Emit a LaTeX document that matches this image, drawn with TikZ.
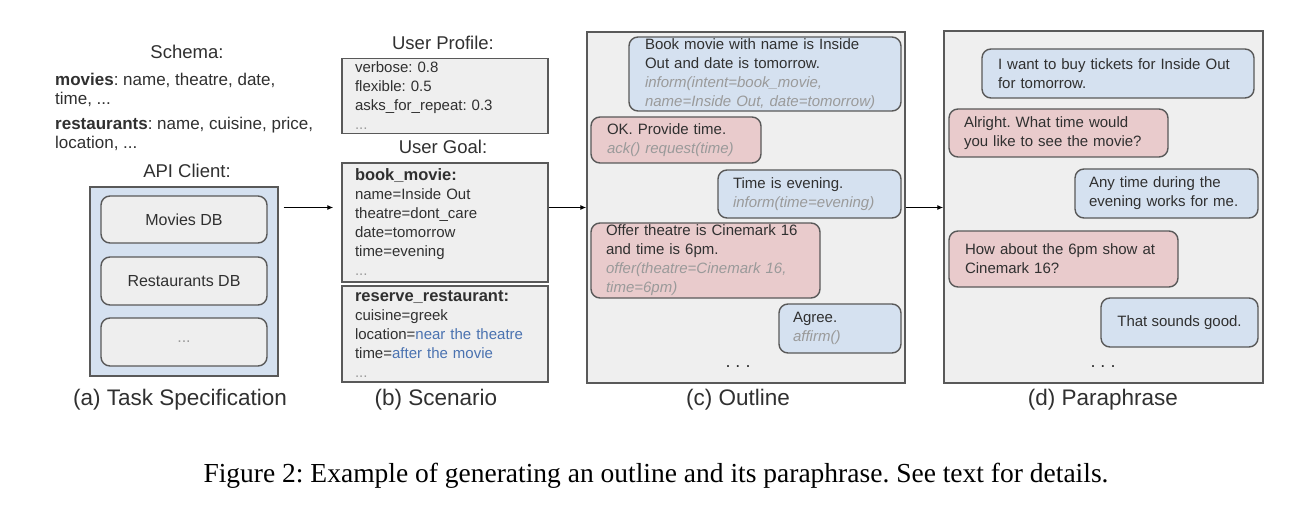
\documentclass[tikz,border=0pt]{standalone}
\usepackage{fontspec}
\setmainfont{Liberation Sans}
\newfontfamily\capfont{Liberation Serif}
\usetikzlibrary{arrows.meta}
\frenchspacing
\definecolor{bord}{HTML}{595959}
\definecolor{panelf}{HTML}{EFEFEF}
\definecolor{bluef}{HTML}{D5E1F0}
\definecolor{redf}{HTML}{E9CBCC}
\definecolor{dbf}{HTML}{EEEEEE}
\definecolor{txtc}{HTML}{303030}
\definecolor{grt}{HTML}{9A9A9A}
\definecolor{linkb}{HTML}{4A72B0}
\newcommand\fs[2]{\fontsize{#1}{#2}\selectfont}
\newcommand\gi[1]{{\color{grt}\itshape #1}}
\tikzset{
  every node/.style={text=txtc},
  ttl/.style={font=\fs{18.5}{22}},
  sub/.style={font=\fs{22.5}{26}},
  panel/.style={draw=bord, fill=panelf, line width=1.4pt, inner sep=0pt},
  bubble/.style={draw=bord, line width=1.4pt, rounded corners=9pt, align=left, inner ysep=0pt, font=\fs{15}{19}},
  bblue/.style={bubble, fill=bluef},
  bred/.style={bubble, fill=redf},
  dbbox/.style={draw=bord, fill=dbf, line width=1.4pt, rounded corners=9pt, minimum width=166pt, font=\fs{16}{19}},
  sbox/.style={draw=bord, fill=panelf, line width=1.4pt, minimum width=206pt, inner xsep=13pt, text width=180pt, align=left, font=\fs{15}{19}},
  arr/.style={draw=black, line width=1.1pt, -{Latex[length=6pt,width=5pt]}},
}
\begin{document}
\begin{tikzpicture}[x=1pt,y=-1pt]
\useasboundingbox (0,0) rectangle (1312,508);
\fill[white] (0,0) rectangle (1312,508);

% (a) Task specification
\node[ttl] (schema) at (187,52) {Schema:};
\node[anchor=west, align=left, inner sep=0pt, font=\fs{17}{19}] (smov) at (55,90) {\textbf{movies}: name, theatre, date,\\time, ...};
\node[anchor=west, align=left, inner sep=0pt, font=\fs{17}{19}] (sres) at (55,134) {\textbf{restaurants}: name, cuisine, price,\\location, ...};
\node[ttl] (apit) at (187,171) {API Client:};
\node[draw=bord, fill=bluef, line width=1.4pt, minimum width=188pt, minimum height=189pt] (api) at (184,281.5) {};
\node[dbbox, minimum height=47pt] (mdb) at (184,219.5) {Movies DB};
\node[dbbox, minimum height=48pt] (rdb) at (184,281) {Restaurants DB};
\node[dbbox, minimum height=48pt, text=grt] (xdb) at (184,342) {...};
\node[sub] (capa) at (180,400) {(a) Task Specification};

% (b) Scenario
\node[ttl] (upt) at (443,43) {User Profile:};
\node[sbox, minimum height=74pt] (prof) at (445,96) {verbose: 0.8\\flexible: 0.5\\asks\_for\_repeat: 0.3\\{\color{grt}...}};
\node[ttl] (ugt) at (443,147) {User Goal:};
\node[sbox, minimum height=119pt] (goal) at (445,222.5) {{\fs{16.5}{19}\bfseries book\_movie:}\\name=Inside Out\\theatre=dont\_care\\date=tomorrow\\time=evening\\{\color{grt}...}};
\node[sbox, minimum height=96pt] (res) at (445,334) {{\fs{16.5}{19}\bfseries reserve\_restaurant:}\\cuisine=greek\\location=\textcolor{linkb}{near the theatre}\\time=\textcolor{linkb}{after the movie}\\{\color{grt}...}};
\node[sub] (capb) at (436,400) {(b) Scenario};

% (c) Outline
\node[panel, minimum width=318pt, minimum height=351pt] (ol) at (746,207.5) {};
\node[bblue, minimum height=74pt, inner xsep=16pt, text width=240pt] (o1) at (765,74) {Book movie with name is Inside\\Out and date is tomorrow.\\\gi{inform(intent=book\_movie,}\\\gi{name=Inside Out, date=tomorrow)}};
\node[bred, minimum height=46pt, inner xsep=16pt, text width=138pt] (o2) at (676,140) {OK. Provide time.\\\gi{ack() request(time)}};
\node[bblue, minimum height=48pt, inner xsep=15pt, text width=153pt] (o3) at (809.5,194) {Time is evening.\\\gi{inform(time=evening)}};
\node[bred, minimum height=75pt, inner xsep=15pt, text width=199pt] (o4) at (705.5,260.5) {Offer theatre is Cinemark 16\\and time is 6pm.\\\gi{offer(theatre=Cinemark 16,}\\\gi{time=6pm)}};
\node[bblue, minimum height=49pt, inner xsep=14pt, text width=94pt] (o5) at (840,328.5) {Agree.\\\gi{affirm()}};
\node[font=\fs{18}{20}] (old) at (738,367) {. . .};
\node[sub] (capc) at (738,400) {(c) Outline};

% (d) Paraphrase
\node[panel, minimum width=319pt, minimum height=352pt] (pp) at (1103.5,207) {};
\node[bblue, minimum height=49pt, inner xsep=16pt, text width=240pt] (p1) at (1118,73.5) {I want to buy tickets for Inside Out\\for tomorrow.};
\node[bred, minimum height=48pt, inner xsep=15pt, text width=189pt] (p2) at (1058.5,133) {Alright. What time would\\you like to see the movie?};
\node[bblue, minimum height=49pt, inner xsep=14pt, text width=155pt] (p3) at (1166.5,193.5) {Any time during the\\evening works for me.};
\node[bred, minimum height=56pt, inner xsep=16pt, text width=197pt] (p4) at (1063.5,259) {How about the 6pm show at\\Cinemark 16?};
\node[bblue, minimum height=49pt, minimum width=157pt, align=center] (p5) at (1179.5,322.5) {That sounds good.};
\node[font=\fs{18}{20}] (ppd) at (1103,367) {. . .};
\node[sub] (capd) at (1103,400) {(d) Paraphrase};

% arrows
\draw[arr] ([xshift=5pt]api.east |- ol.west) -- ([xshift=-8pt]goal.west |- ol.west);
\draw[arr] (goal.east |- ol.west) -- (ol.west);
\draw[arr] (ol.east) -- (pp.west |- ol.east);

% caption
\node[font=\capfont\fs{27.5}{30}, text=black] (fig) at (656,476) {Figure 2: Example of generating an outline and its paraphrase. See text for details.};
\end{tikzpicture}
\end{document}
